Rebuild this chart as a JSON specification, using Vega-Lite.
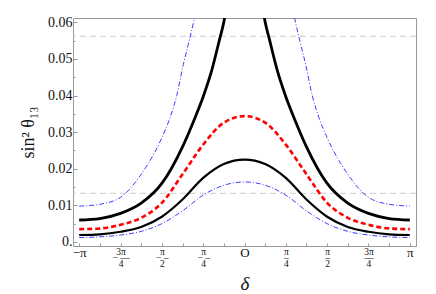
{
  "$schema": "https://vega.github.io/schema/vega-lite/v6.json",
  "autosize": {"type": "none"},
  "width": 343,
  "height": 228,
  "padding": {"left": 73, "top": 18, "right": 20, "bottom": 48},
  "background": "white",
  "config": {
    "view": {"stroke": "#999999", "strokeWidth": 1},
    "font": "Liberation Serif"
  },
  "datasets": {
    "curves": [
      {"s": "b1", "g": "b1", "d": -1, "v": 0.0012},
      {"s": "b1", "g": "b1", "d": -0.875, "v": 0.0014},
      {"s": "b1", "g": "b1", "d": -0.75, "v": 0.0019},
      {"s": "b1", "g": "b1", "d": -0.625, "v": 0.0029},
      {"s": "b1", "g": "b1", "d": -0.5, "v": 0.0050},
      {"s": "b1", "g": "b1", "d": -0.375, "v": 0.0085},
      {"s": "b1", "g": "b1", "d": -0.25, "v": 0.0128},
      {"s": "b1", "g": "b1", "d": -0.125, "v": 0.0155},
      {"s": "b1", "g": "b1", "d": 0, "v": 0.0164},
      {"s": "b1", "g": "b1", "d": 0.125, "v": 0.0155},
      {"s": "b1", "g": "b1", "d": 0.25, "v": 0.0128},
      {"s": "b1", "g": "b1", "d": 0.375, "v": 0.0085},
      {"s": "b1", "g": "b1", "d": 0.5, "v": 0.0050},
      {"s": "b1", "g": "b1", "d": 0.625, "v": 0.0029},
      {"s": "b1", "g": "b1", "d": 0.75, "v": 0.0019},
      {"s": "b1", "g": "b1", "d": 0.875, "v": 0.0014},
      {"s": "b1", "g": "b1", "d": 1, "v": 0.0012},

      {"s": "k1", "g": "k1", "d": -1, "v": 0.0019},
      {"s": "k1", "g": "k1", "d": -0.875, "v": 0.0021},
      {"s": "k1", "g": "k1", "d": -0.75, "v": 0.0028},
      {"s": "k1", "g": "k1", "d": -0.625, "v": 0.0041},
      {"s": "k1", "g": "k1", "d": -0.5, "v": 0.0069},
      {"s": "k1", "g": "k1", "d": -0.375, "v": 0.0116},
      {"s": "k1", "g": "k1", "d": -0.25, "v": 0.0175},
      {"s": "k1", "g": "k1", "d": -0.125, "v": 0.0213},
      {"s": "k1", "g": "k1", "d": 0, "v": 0.0225},
      {"s": "k1", "g": "k1", "d": 0.125, "v": 0.0213},
      {"s": "k1", "g": "k1", "d": 0.25, "v": 0.0175},
      {"s": "k1", "g": "k1", "d": 0.375, "v": 0.0116},
      {"s": "k1", "g": "k1", "d": 0.5, "v": 0.0069},
      {"s": "k1", "g": "k1", "d": 0.625, "v": 0.0041},
      {"s": "k1", "g": "k1", "d": 0.75, "v": 0.0028},
      {"s": "k1", "g": "k1", "d": 0.875, "v": 0.0021},
      {"s": "k1", "g": "k1", "d": 1, "v": 0.0019},

      {"s": "r", "g": "r", "d": -1, "v": 0.0035},
      {"s": "r", "g": "r", "d": -0.875, "v": 0.0037},
      {"s": "r", "g": "r", "d": -0.75, "v": 0.0047},
      {"s": "r", "g": "r", "d": -0.625, "v": 0.0066},
      {"s": "r", "g": "r", "d": -0.5, "v": 0.0107},
      {"s": "r", "g": "r", "d": -0.375, "v": 0.0185},
      {"s": "r", "g": "r", "d": -0.25, "v": 0.0266},
      {"s": "r", "g": "r", "d": -0.125, "v": 0.0326},
      {"s": "r", "g": "r", "d": 0, "v": 0.0344},
      {"s": "r", "g": "r", "d": 0.125, "v": 0.0326},
      {"s": "r", "g": "r", "d": 0.25, "v": 0.0266},
      {"s": "r", "g": "r", "d": 0.375, "v": 0.0185},
      {"s": "r", "g": "r", "d": 0.5, "v": 0.0107},
      {"s": "r", "g": "r", "d": 0.625, "v": 0.0066},
      {"s": "r", "g": "r", "d": 0.75, "v": 0.0047},
      {"s": "r", "g": "r", "d": 0.875, "v": 0.0037},
      {"s": "r", "g": "r", "d": 1, "v": 0.0035},

      {"s": "k2", "g": "k2L", "d": -1, "v": 0.0060},
      {"s": "k2", "g": "k2L", "d": -0.875, "v": 0.0064},
      {"s": "k2", "g": "k2L", "d": -0.75, "v": 0.0078},
      {"s": "k2", "g": "k2L", "d": -0.625, "v": 0.0106},
      {"s": "k2", "g": "k2L", "d": -0.5, "v": 0.0160},
      {"s": "k2", "g": "k2L", "d": -0.375, "v": 0.0260},
      {"s": "k2", "g": "k2L", "d": -0.3, "v": 0.0339},
      {"s": "k2", "g": "k2L", "d": -0.25, "v": 0.0397},
      {"s": "k2", "g": "k2L", "d": -0.2, "v": 0.0466},
      {"s": "k2", "g": "k2L", "d": -0.15, "v": 0.0555},
      {"s": "k2", "g": "k2L", "d": -0.125, "v": 0.0601},
      {"s": "k2", "g": "k2L", "d": -0.11, "v": 0.0640},
      {"s": "k2", "g": "k2R", "d": 0.11, "v": 0.0640},
      {"s": "k2", "g": "k2R", "d": 0.125, "v": 0.0601},
      {"s": "k2", "g": "k2R", "d": 0.15, "v": 0.0555},
      {"s": "k2", "g": "k2R", "d": 0.2, "v": 0.0466},
      {"s": "k2", "g": "k2R", "d": 0.25, "v": 0.0397},
      {"s": "k2", "g": "k2R", "d": 0.3, "v": 0.0339},
      {"s": "k2", "g": "k2R", "d": 0.375, "v": 0.0260},
      {"s": "k2", "g": "k2R", "d": 0.5, "v": 0.0160},
      {"s": "k2", "g": "k2R", "d": 0.625, "v": 0.0106},
      {"s": "k2", "g": "k2R", "d": 0.75, "v": 0.0078},
      {"s": "k2", "g": "k2R", "d": 0.875, "v": 0.0064},
      {"s": "k2", "g": "k2R", "d": 1, "v": 0.0060},

      {"s": "b2", "g": "b2L", "d": -1, "v": 0.0098},
      {"s": "b2", "g": "b2L", "d": -0.875, "v": 0.0103},
      {"s": "b2", "g": "b2L", "d": -0.75, "v": 0.0122},
      {"s": "b2", "g": "b2L", "d": -0.625, "v": 0.0185},
      {"s": "b2", "g": "b2L", "d": -0.5, "v": 0.0285},
      {"s": "b2", "g": "b2L", "d": -0.45, "v": 0.0340},
      {"s": "b2", "g": "b2L", "d": -0.41, "v": 0.0400},
      {"s": "b2", "g": "b2L", "d": -0.37, "v": 0.0485},
      {"s": "b2", "g": "b2L", "d": -0.34, "v": 0.0540},
      {"s": "b2", "g": "b2L", "d": -0.31, "v": 0.0597},
      {"s": "b2", "g": "b2L", "d": -0.29, "v": 0.0640},
      {"s": "b2", "g": "b2R", "d": 0.29, "v": 0.0640},
      {"s": "b2", "g": "b2R", "d": 0.31, "v": 0.0597},
      {"s": "b2", "g": "b2R", "d": 0.34, "v": 0.0540},
      {"s": "b2", "g": "b2R", "d": 0.37, "v": 0.0485},
      {"s": "b2", "g": "b2R", "d": 0.41, "v": 0.0400},
      {"s": "b2", "g": "b2R", "d": 0.45, "v": 0.0340},
      {"s": "b2", "g": "b2R", "d": 0.5, "v": 0.0285},
      {"s": "b2", "g": "b2R", "d": 0.625, "v": 0.0185},
      {"s": "b2", "g": "b2R", "d": 0.75, "v": 0.0122},
      {"s": "b2", "g": "b2R", "d": 0.875, "v": 0.0103},
      {"s": "b2", "g": "b2R", "d": 1, "v": 0.0098}
    ],
    "refs": [
      {"ref": 0.0562},
      {"ref": 0.0133}
    ]
  },
  "data": {"name": "curves"},
  "encoding": {
    "x": {
      "field": "d",
      "type": "quantitative",
      "scale": {"domain": [-1.0375, 1.0375], "nice": false, "zero": false},
      "axis": {
        "title": "δ",
        "titleFont": "Liberation Serif",
        "titleFontStyle": "italic",
        "titleFontWeight": "normal",
        "titleFontSize": 19,
        "titleColor": "#111111",
        "titlePadding": 7,
        "values": [-1, -0.875, -0.75, -0.625, -0.5, -0.375, -0.25, -0.125, 0, 0.125, 0.25, 0.375, 0.5, 0.625, 0.75, 0.875, 1],
        "domain": false,
        "grid": false,
        "ticks": true,
        "tickColor": "#999999",
        "tickSize": -3,
        "labelFlush": false,
        "labelOverlap": false,
        "labelBound": false,
        "labelPadding": 3,
        "labelFont": "Liberation Serif",
        "labelColor": "#111111",
        "labelLineHeight": 6.2,
        "labelFontSize": {"condition": {"test": "abs(round(datum.value*8)) % 8 != 0", "value": 9.5}, "value": 13},
        "labelExpr": "abs(round(datum.value*8)) % 2 == 1 ? '' : round(datum.value*8) == -8 ? '−π' : round(datum.value*8) == 8 ? 'π' : round(datum.value*8) == 0 ? 'O' : round(datum.value*8) == -6 ? ['\u00a0\u00a0\u00a03π', '−\u00a0—', '\u00a0\u00a0\u00a04'] : round(datum.value*8) == -4 ? ['\u00a0\u00a0\u00a0π', '−\u00a0–', '\u00a0\u00a0\u00a02'] : round(datum.value*8) == -2 ? ['\u00a0\u00a0\u00a0π', '−\u00a0–', '\u00a0\u00a0\u00a04'] : round(datum.value*8) == 2 ? ['π', '–', '4'] : round(datum.value*8) == 4 ? ['π', '–', '2'] : ['3π', '—', '4']"
      }
    },
    "y": {
      "field": "v",
      "type": "quantitative",
      "scale": {"domain": [-0.0011, 0.0612], "nice": false, "zero": false},
      "axis": {
        "title": "sin² θ₁₃",
        "titleFont": "Liberation Serif",
        "titleFontWeight": "normal",
        "titleFontSize": 18,
        "titleColor": "#111111",
        "titlePadding": 10,
        "values": [0, 0.005, 0.01, 0.015, 0.02, 0.025, 0.03, 0.035, 0.04, 0.045, 0.05, 0.055, 0.06],
        "domain": false,
        "grid": false,
        "tickColor": "#999999",
        "tickSize": {"condition": {"test": "round(datum.value*200) % 2 == 1", "value": -2}, "value": -4},
        "labelPadding": 5,
        "labelFont": "Liberation Serif",
        "labelFontSize": 14,
        "labelColor": "#111111",
        "labelOverlap": false,
        "labelBound": false,
        "labelFlush": false,
        "labelExpr": "round(datum.value*200) % 2 == 1 ? '' : (datum.value == 0 ? '0.' : format(datum.value, '.2f'))"
      }
    }
  },
  "layer": [
    {
      "data": {"name": "refs"},
      "mark": {"type": "rule", "color": "#cccccc", "strokeWidth": 1, "strokeDash": [6, 4]},
      "encoding": {"y": {"field": "ref", "type": "quantitative"}, "x": null}
    },
    {
      "transform": [{"filter": "datum.s == 'b1' || datum.s == 'b2'"}],
      "mark": {"type": "line", "color": "#3d3dff", "strokeWidth": 1, "strokeDash": [5, 2, 1, 2], "interpolate": "monotone", "clip": true},
      "encoding": {"detail": {"field": "g"}}
    },
    {
      "transform": [{"filter": "datum.s == 'k1'"}],
      "mark": {"type": "line", "color": "#000000", "strokeWidth": 2.2, "interpolate": "monotone", "clip": true},
      "encoding": {"detail": {"field": "g"}}
    },
    {
      "transform": [{"filter": "datum.s == 'k2'"}],
      "mark": {"type": "line", "color": "#000000", "strokeWidth": 2.8, "interpolate": "monotone", "clip": true},
      "encoding": {"detail": {"field": "g"}}
    },
    {
      "transform": [{"filter": "datum.s == 'r'"}],
      "mark": {"type": "line", "color": "#ff0000", "strokeWidth": 2.6, "strokeDash": [5, 3], "interpolate": "monotone", "clip": true},
      "encoding": {"detail": {"field": "g"}}
    }
  ]
}
